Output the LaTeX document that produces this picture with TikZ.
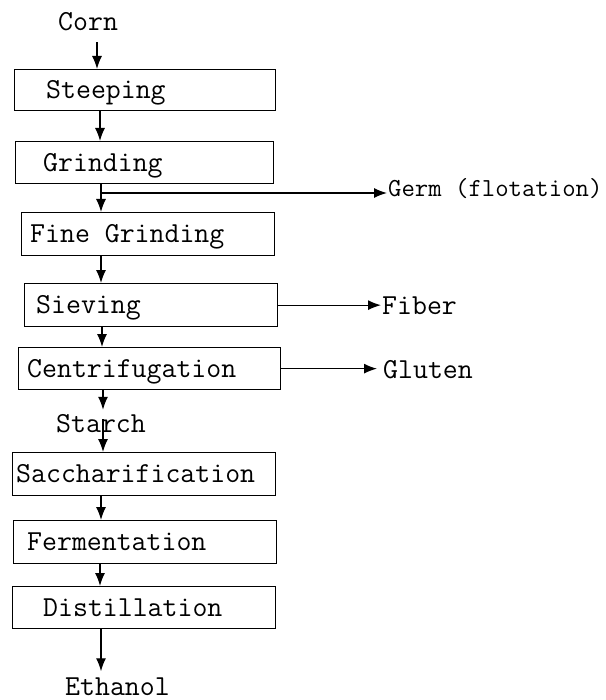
\documentclass[tikz,border=0pt]{standalone}
\usepackage{tikz}
\usetikzlibrary{arrows.meta}

\begin{document}
\begin{tikzpicture}[x=1pt,y=-1pt,
  stage/.style={draw, line width=1.3pt, anchor=north west, inner sep=0pt, minimum height=42pt},
  word/.style={font=\fontsize{29}{34}\selectfont\ttfamily, inner sep=0pt, text height=17.5pt, text depth=0pt},
  side/.style={font=\fontsize{26}{31}\selectfont\ttfamily, inner sep=0pt, anchor=base west},
  flow/.style={line width=1.3pt, -{Latex[length=13pt,width=10pt]}}]
\useasboundingbox (0,0) rectangle (605,700);

% process steps
\node[stage, minimum width=261pt, minimum height=41pt] (steep) at (14,69) {};
\node[word, anchor=west] at ([xshift=32pt]steep.west) {Steeping};
\node[stage, minimum width=258pt] (grind) at (15,141) {};
\node[word, anchor=west] at ([xshift=28pt]grind.west) {Grinding};
\node[stage, minimum width=253pt, minimum height=43pt] (fine) at (21,212) {};
\node[word, anchor=west] at ([xshift=9pt]fine.west) {Fine Grinding};
\node[stage, minimum width=253pt, minimum height=43pt] (sieve) at (24,283) {};
\node[word, anchor=west] at ([xshift=12pt]sieve.west) {Sieving};
\node[stage, minimum width=262pt] (centr) at (18,347) {};
\node[word, anchor=west] at ([xshift=9pt]centr.west) {Centrifugation};
\node[stage, minimum width=263pt, minimum height=43pt] (sacch) at (12,452) {};
\node[word, anchor=west] at ([xshift=4pt]sacch.west) {Saccharification};
\node[stage, minimum width=263pt, minimum height=43pt] (ferm) at (13,520) {};
\node[word, anchor=west] at ([xshift=14pt]ferm.west) {Fermentation};
\node[stage, minimum width=263pt] (dist) at (12,586) {};
\node[word, anchor=west] at ([xshift=31pt]dist.west) {Distillation};

% inputs and products
\node[word, anchor=base west] (corn) at (58,31) {Corn};
\node[word, anchor=base west] (starch) at (56,432) {Starch};
\node[word, anchor=base west] (ethanol) at (65,695) {Ethanol};
\node[side] (germ) at (388,197) {Germ (flotation)};
\node[word, anchor=base west] (fiber) at (382,314) {Fiber};
\node[word, anchor=base west] (gluten) at (383,378) {Gluten};

% main line
\draw[flow, shorten <=11pt] (97,0 |- corn.south) -- (97,0 |- steep.north);
\draw[flow] (100,0 |- steep.south) -- (100,0 |- grind.north);
\draw[flow] (101,0 |- grind.south) -- (101,0 |- fine.north);
\draw[flow] (101,0 |- fine.south) -- (101,0 |- sieve.north);
\draw[flow] (102,0 |- sieve.south) -- (102,0 |- centr.north);
\draw[flow, shorten >=4.5pt] (103,0 |- centr.south) -- (103,0 |- starch.north);
\draw[flow, shorten <=5pt] (103,0 |- starch.north) -- (103,0 |- sacch.north);
\draw[flow] (101,0 |- sacch.south) -- (101,0 |- ferm.north);
\draw[flow] (100,0 |- ferm.south) -- (100,0 |- dist.north);
\draw[flow, shorten >=6pt] (101,0 |- dist.south) -- (101,0 |- ethanol.north);

% side streams
\coordinate (split) at (101,193);
\draw[flow, shorten >=1pt] (split) -- (split -| germ.west);
\draw[flow, shorten >=1pt] (sieve.east) -- (sieve.east -| fiber.west);
\draw[flow, shorten >=6pt] (centr.east) -- (centr.east -| gluten.west);
\end{tikzpicture}
\end{document}
